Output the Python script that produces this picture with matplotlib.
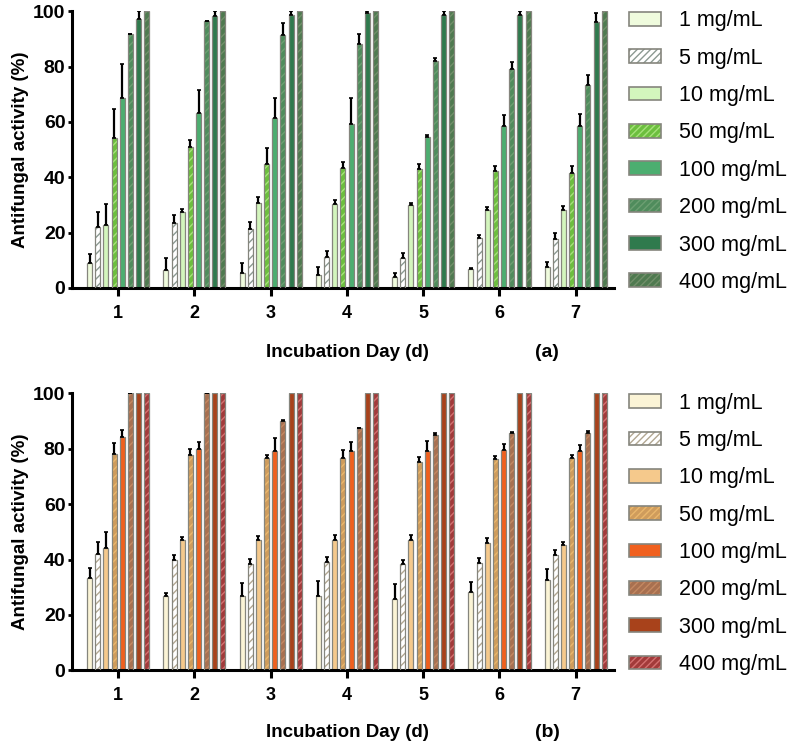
import numpy as np
import matplotlib
matplotlib.use("Agg")
import matplotlib.pyplot as plt
from matplotlib.patches import Patch

# concentrations and days
labels = ["1 mg/mL", "5 mg/mL", "10 mg/mL", "50 mg/mL",
          "100 mg/mL", "200 mg/mL", "300 mg/mL", "400 mg/mL"]
days = [1, 2, 3, 4, 5, 6, 7]

# panel (a): one list per concentration, values per day
vals_a = [
    [9.0, 6.5, 5.3, 4.8, 4.1, 7.0, 7.5],
    [22.0, 23.5, 21.2, 11.1, 10.9, 17.9, 17.8],
    [22.8, 27.3, 30.8, 30.4, 30.0, 28.2, 28.3],
    [54.3, 51.1, 44.9, 43.4, 42.9, 42.2, 41.7],
    [68.6, 63.3, 61.5, 59.3, 54.7, 58.4, 58.4],
    [91.6, 96.4, 91.3, 88.3, 81.9, 79.2, 73.4],
    [97.1, 98.3, 98.8, 99.2, 98.8, 98.5, 96.1],
    [100, 100, 100, 100, 100, 100, 100],
]
err_a = [
    [3.3, 4.2, 3.6, 2.7, 1.2, 0.3, 1.8],
    [5.4, 2.9, 2.8, 2.2, 1.8, 1.4, 2.1],
    [7.4, 1.3, 2.0, 1.4, 0.7, 1.1, 1.3],
    [10.2, 2.5, 5.6, 2.0, 1.8, 1.9, 2.3],
    [12.2, 8.1, 7.3, 9.3, 0.7, 4.1, 4.5],
    [0, 0, 4.5, 3.5, 1.3, 2.4, 3.7],
    [2.9, 1.7, 1.2, 0.8, 1.2, 1.5, 3.4],
    [0, 0, 0, 0, 0, 0, 0],
]

# panel (b)
vals_b = [
    [33.3, 26.7, 26.9, 26.7, 25.6, 28.1, 32.5],
    [42.1, 40.0, 38.5, 39.1, 38.2, 38.7, 41.5],
    [44.2, 47.2, 47.2, 47.1, 47.1, 46.0, 45.4],
    [78.1, 77.9, 76.6, 76.7, 75.1, 76.3, 76.7],
    [84.1, 79.9, 79.1, 79.2, 79.1, 79.7, 79.3],
    [100, 100, 90.1, 87.4, 85.1, 85.6, 85.6],
    [100, 100, 100, 100, 100, 100, 100],
    [100, 100, 100, 100, 100, 100, 100],
]
err_b = [
    [3.7, 1.2, 4.6, 5.4, 5.4, 3.8, 3.9],
    [4.2, 1.8, 1.8, 1.8, 1.7, 1.9, 1.8],
    [5.9, 1.1, 1.4, 1.9, 1.6, 1.8, 0.9],
    [3.9, 2.0, 1.3, 2.9, 1.8, 1.2, 1.2],
    [2.7, 2.7, 4.8, 3.4, 3.8, 2.0, 2.1],
    [0, 0, 0.3, 0.2, 0.6, 0.4, 0.9],
    [0, 0, 0, 0, 0, 0, 0],
    [0, 0, 0, 0, 0, 0, 0],
]

# face colour, hatch colour (None = no hatch)
greens = [("#effbdd", None), ("#ffffff", "#8c9a92"), ("#d3f5bd", None),
          ("#6cbf3e", "#a6e27a"), ("#4cae70", None), ("#4f8c5c", "#6c9f72"),
          ("#2f7a4d", None), ("#4f7a50", "#72906a")]
oranges = [("#fbf4d6", None), ("#ffffff", "#b2a792"), ("#f5c98c", None),
           ("#cf9c5c", "#eab76c"), ("#f0601e", None), ("#a87050", "#c48862"),
           ("#a8421b", None), ("#a23a3a", "#d47070")]
edge = "#85857d"

plt.rcParams['font.family'] = ['Liberation Sans', 'DejaVu Sans']

fig = plt.figure(figsize=(7.87, 7.48), dpi=100)
ax_a = fig.add_axes([0.092, 0.615, 0.688, 0.370])
ax_b = fig.add_axes([0.092, 0.104, 0.688, 0.370])

pitch = 0.107
width = 0.066


def draw(ax, vals, errs, colors, tag, ytxt):
    x = np.array(days, dtype=float)
    handles = []
    for i in range(8):
        pos = x + (i - 3.5) * pitch
        face, hcol = colors[i]
        if hcol is None:
            ax.bar(pos, vals[i], width, color=face, edgecolor=edge, linewidth=0.9, zorder=2)
            h = Patch(facecolor=face, edgecolor=edge, linewidth=1.2)
        else:
            ax.bar(pos, vals[i], width, color=face, edgecolor=hcol, hatch="////",
                   linewidth=0, zorder=2)
            ax.bar(pos, vals[i], width, color="none", edgecolor=edge, linewidth=0.9, zorder=3)
            h = (Patch(facecolor=face, edgecolor=hcol, hatch="/////", linewidth=0),
                 Patch(facecolor="none", edgecolor=edge, linewidth=1.2))
        handles.append(h)
        e = np.array(errs[i])
        if e.max() > 0:
            ax.errorbar(pos, vals[i], yerr=[np.zeros(7), e], fmt="none", ecolor="black",
                        elinewidth=1.6, capsize=1.5, capthick=1.2, zorder=4)
    ax.set_xlim(0.4, 7.5)
    ax.set_ylim(0, 100)
    ax.set_xticks(days)
    ax.set_yticks([0, 20, 40, 60, 80, 100])
    for s in ["top", "right"]:
        ax.spines[s].set_visible(False)
    for s in ["left", "bottom"]:
        ax.spines[s].set_linewidth(2.2)
    ax.tick_params(axis="x", length=6, width=2.2, labelsize=13, pad=6)
    ax.tick_params(axis="y", length=3, width=2, labelsize=14, pad=2)
    for t in ax.get_xticklabels() + ax.get_yticklabels():
        t.set_fontweight("bold")
    ax.set_ylabel("Antifungal activity (%)", fontsize=13.5, fontweight="bold", labelpad=3)
    ax.legend(handles, labels, loc="upper left", bbox_to_anchor=(1.028, 1.003),
              frameon=False, fontsize=15.5, handlelength=1.5, handleheight=0.6,
              handletextpad=0.8, labelspacing=0.76, borderaxespad=0, borderpad=0)
    fig.text(0.442, ytxt, "Incubation Day (d)", ha="center", va="center",
             fontsize=13.5, fontweight="bold")
    fig.text(0.695, ytxt, tag, ha="center", va="center", fontsize=14, fontweight="bold")


draw(ax_a, vals_a, err_a, greens, "(a)", 0.529)
draw(ax_b, vals_b, err_b, oranges, "(b)", 0.021)

fig.savefig("out.png", dpi=100)
